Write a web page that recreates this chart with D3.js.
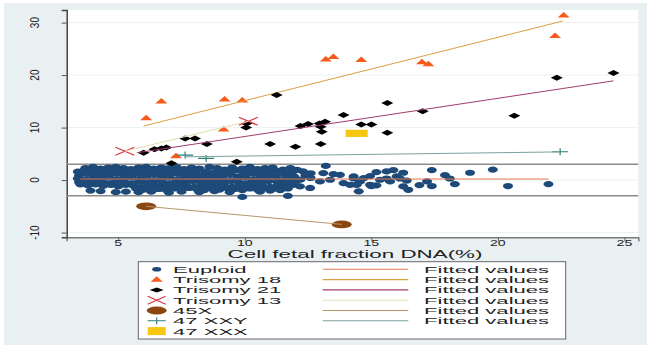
<!DOCTYPE html>
<html>
<head>
<meta charset="utf-8">
<script src="https://cdn.jsdelivr.net/npm/d3@7"></script>
<style>
  body { margin: 0; background: #fff; }
  text { font-family: "Liberation Sans", Arial, sans-serif; }
</style>
</head>
<body>
<svg id="chart" width="647" height="345"></svg>
<script>
// tick values
const xTicks = [5, 10, 15, 20, 25];
const yTicks = [-10, 0, 10, 20, 30];
const refLines = [3, -3];

// Euploid samples [fetal fraction %, z-score]
const euploid = [
  [3.7,2.3],[4.0,2.5],[4.3,2.2],[4.6,2.4],[4.9,2.5],[5.2,2.3],[5.5,2.1],[5.8,2.4],[6.1,2.5],[6.4,2.2],
  [6.7,2.4],[7.0,2.3],[7.3,2.5],[7.6,2.1],[7.9,2.4],[8.2,2.2],[8.6,2.5],[8.9,2.3],[9.2,2.0],[9.5,2.4],
  [9.9,2.2],[10.2,2.5],[10.5,2.1],[10.8,2.3],[11.1,2.4],[11.5,2.0],[11.8,2.3],[13.2,2.7],
  [3.4,1.6],[3.65,1.9],[3.95,1.5],[4.25,1.8],[4.55,1.6],[4.85,1.9],[5.15,1.7],[5.45,1.5],[5.75,1.8],[6.05,1.6],
  [6.35,1.9],[6.65,1.5],[6.95,1.7],[7.25,1.8],[7.55,1.5],[7.85,1.7],[8.15,1.9],[8.45,1.6],[8.75,1.4],[9.05,1.8],
  [9.35,1.6],[9.65,1.9],[9.95,1.5],[10.25,1.7],[10.55,1.9],[10.85,1.5],[11.2,1.8],[11.5,1.6],[11.85,1.4],[12.06,1.96],
  [12.3,1.65],[12.6,1.3],[13.1,1.33],[13.5,1.14],[13.76,1.0],
  [3.45,0.9],[3.75,1.2],[4.05,0.8],[4.35,1.1],[4.65,0.9],[4.95,1.2],[5.25,0.8],[5.55,1.0],[5.85,1.2],[6.15,0.9],
  [6.45,1.1],[6.75,0.8],[7.05,1.0],[7.35,1.2],[7.65,0.9],[7.95,1.1],[8.25,0.8],[8.55,1.0],[8.85,1.2],[9.15,0.9],
  [9.45,1.1],[9.75,0.7],[10.05,1.0],[10.35,1.2],[10.65,0.9],[10.95,1.1],[11.25,0.8],[11.6,1.0],[11.95,0.7],[12.4,0.9],
  [14.3,0.7],[14.7,0.38],
  [3.4,0.3],[3.7,0.1],[4.0,0.4],[4.3,0.2],[4.6,0.5],[4.9,0.1],[5.2,0.3],[5.5,0.5],[5.8,0.2],[6.1,0.4],
  [6.4,0.0],[6.7,0.3],[7.0,0.5],[7.3,0.1],[7.6,0.4],[7.9,0.2],[8.2,0.5],[8.5,0.1],[8.8,0.3],[9.1,0.4],
  [9.4,0.0],[9.7,0.3],[10.0,0.5],[10.3,0.1],[10.6,0.4],[10.9,0.2],[11.2,0.5],[11.5,0.0],[11.8,0.3],[12.2,0.1],
  [12.6,0.4],[13.37,0.06],[14.3,0.3],[14.55,-0.3],
  [3.45,-0.4],[3.75,-0.2],[4.05,-0.5],[4.35,-0.3],[4.65,-0.6],[4.95,-0.2],[5.25,-0.4],[5.55,-0.6],[5.85,-0.3],[6.15,-0.5],
  [6.45,-0.2],[6.75,-0.4],[7.05,-0.6],[7.35,-0.3],[7.65,-0.5],[7.95,-0.2],[8.25,-0.4],[8.55,-0.6],[8.85,-0.3],[9.15,-0.5],
  [9.45,-0.2],[9.75,-0.4],[10.05,-0.6],[10.35,-0.3],[10.65,-0.5],[10.95,-0.2],[11.3,-0.4],[11.65,-0.6],[12.0,-0.3],[12.97,-0.25],
  [13.9,-0.57],
  [3.5,-0.8],[3.8,-1.0],[4.1,-0.8],[4.4,-1.1],[4.7,-0.9],[5.0,-1.2],[5.3,-0.9],[5.6,-1.1],[5.9,-1.3],[6.2,-0.9],
  [6.5,-1.2],[6.8,-1.0],[7.1,-1.3],[7.4,-0.9],[7.7,-1.1],[8.0,-1.3],[8.3,-1.0],[8.6,-1.2],[8.9,-0.9],[9.2,-1.1],
  [9.5,-1.3],[9.8,-1.0],[10.1,-1.2],[10.4,-0.9],[10.7,-1.1],[11.0,-1.3],[11.3,-1.0],[11.6,-1.2],[11.9,-0.9],[12.18,-1.2],
  [14.16,-0.9],[14.42,-0.9],
  [5.7,-1.6],[6.0,-1.8],[6.3,-1.5],[6.6,-1.7],[6.9,-1.9],[7.2,-1.6],[7.5,-1.8],[7.8,-1.5],[8.1,-1.7],[8.4,-1.9],
  [8.7,-1.6],[9.0,-1.8],[9.3,-1.5],[9.6,-1.7],[9.9,-1.9],[10.2,-1.6],[10.5,-1.8],[10.8,-1.5],[11.1,-1.7],[11.4,-1.9],
  [11.7,-1.6],[12.58,-1.5],
  [3.9,-2.0],[4.3,-2.1],[4.9,-2.3],[5.3,-2.2],[5.8,-2.3],[6.3,-2.2],[7.0,-2.4],[7.5,-2.2],[8.2,-2.3],[8.8,-2.1],
  [9.4,-2.3],[9.9,-3.2],[10.6,-2.2],[11.0,-2.0],[11.7,-3.0],[14.5,-2.15],
  [15.2,1.52],[15.6,1.65],[15.87,1.9],[16.26,1.4],[16.0,0.7],[15.34,0.06],[15.74,-0.25],[14.95,-0.9],[15.2,-1.0],[16.26,-1.2],
  [16.46,-1.85],[17.2,-0.25],[16.13,0.3],[16.4,-0.1],[15.6,0.3],[14.95,0.76],[17.39,1.9],[17.91,0.95],[18.1,0.3],[18.9,1.4],
  [19.8,2.0],[20.4,-1.14],[22.0,-0.76],[18.3,-0.76],[17.39,-1.14],[16.9,-0.95],[15.0,-1.14]
];

const trisomy18 = [
  [6.1,11.8],[6.7,15.0],[9.2,15.4],[9.9,15.2],[9.16,9.65],[7.28,4.57],[13.2,23.0],[13.5,23.5],
  [14.6,22.9],[17.0,22.5],[17.25,22.1],[22.26,27.5],[22.6,31.4]
];

const trisomy21 = [
  [6.0,5.2],[6.43,5.85],[6.7,6.0],[6.9,6.2],[7.64,7.9],[8.03,7.9],[8.5,6.86],[10.07,10.8],[10.05,10.0],
  [11.26,16.2],[11.0,6.86],[12.0,6.35],[12.2,10.3],[12.5,10.7],[9.68,3.5],[7.1,3.2],[12.95,10.8],[13.04,9.2],
  [13.0,6.86],[13.0,10.15],[13.17,11.1],[13.9,12.4],[14.6,10.6],[15.0,10.6],[15.63,14.7],[15.63,9.0],
  [17.03,13.1],[20.65,12.25],[22.33,19.5],[24.57,20.4]
];

const trisomy13 = [[5.26,5.5],[10.14,11.2]];
const x45 = [[6.1,-5.0],[13.83,-8.44]];
const xxy47 = [[7.64,4.76],[8.47,4.13],[22.46,5.4]];
const xxx47 = [[14.42,8.9]];

// fitted values, end points of each lfit line
const fitEuploid = [[3.5,0.2],[22.0,0.2]];
const fit18 = [[6.0,10.3],[22.57,30.3]];
const fit21 = [[5.73,5.2],[24.57,18.9]];
const fit13 = [[5.26,5.5],[10.14,11.2]];
const fit45 = [[6.1,-5.0],[13.83,-8.44]];
const fitXXY = [[7.64,4.43],[22.46,5.37]];

const groupLabels = ['Euploid', 'Trisomy 18', 'Trisomy 21', 'Trisomy 13', '45X', '47 XXY', '47 XXX'];
const fitLabel = 'Fitted values';

const col = {
  euploid: '#1d4a78', t18: '#f85a1a', t21: '#000', t13: '#d8323c', x45: '#8a4710', xxy: '#2f7f78', xxx: '#f6c611',
  fEu: '#e07850', f18: '#dba040', f21: '#a23a70', f13: '#e2e2b8', f45: '#b8956a', fXXY: '#7aa0a0'
};

const svg = d3.select('#chart');

const plotLeft = 66.7, plotRight = 638.3, plotTop = 10, plotBottom = 237.3;

// outer background
svg.append('rect').attr('x', 4).attr('y', 3).attr('width', 643).attr('height', 342).attr('fill', '#e9f0f2');
svg.append('rect').attr('x', plotLeft).attr('y', plotTop)
  .attr('width', plotRight - plotLeft).attr('height', plotBottom - plotTop).attr('fill', '#fff');

const x = d3.scaleLinear().domain([2.96, 25.55]).range([plotLeft, plotRight]);
const y = d3.scaleLinear().domain([-10.9, 32.4]).range([plotBottom, plotTop]);

// faint grid
svg.append('g').selectAll('line').data(yTicks).join('line')
  .attr('x1', plotLeft).attr('x2', plotRight)
  .attr('y1', d => y(d)).attr('y2', d => y(d))
  .attr('stroke', '#edf1f2').attr('stroke-width', 1);

// axes
const xAxis = svg.append('g').attr('transform', 'translate(0,' + plotBottom + ')')
  .call(d3.axisBottom(x).tickValues(xTicks).tickSize(4).tickFormat(''));
xAxis.select('.domain').attr('stroke', '#7a7a7a').attr('stroke-width', 1.5);
xAxis.selectAll('.tick line').attr('stroke', '#666');

const yAxis = svg.append('g').attr('transform', 'translate(' + plotLeft + ',0)')
  .call(d3.axisLeft(y).tickValues(yTicks).tickSize(5).tickFormat(''));
yAxis.select('.domain').attr('stroke', '#444').attr('stroke-width', 1.5);
yAxis.selectAll('.tick line').attr('stroke', '#555');

// tick labels (stretched like the source image)
svg.append('g').selectAll('text').data(xTicks).join('text')
  .attr('transform', d => 'translate(' + x(d) + ',246.3) scale(1.65,1)')
  .attr('text-anchor', 'middle').attr('font-size', 8.6).attr('fill', '#222')
  .text(d => d);

svg.append('g').selectAll('text').data(yTicks).join('text')
  .attr('transform', d => 'translate(38.5,' + y(d) + ') rotate(-90) scale(1,1.35)')
  .attr('text-anchor', 'middle').attr('font-size', 10).attr('fill', '#222')
  .text(d => d);

svg.append('text')
  .attr('transform', 'translate(355,257.5) scale(2.24,1)')
  .attr('text-anchor', 'middle').attr('font-size', 10).attr('fill', '#222')
  .text('Cell fetal fraction DNA(%)');

// reference lines at +-3
svg.append('g').selectAll('line').data(refLines).join('line')
  .attr('x1', plotLeft).attr('x2', plotRight)
  .attr('y1', d => y(d)).attr('y2', d => y(d))
  .attr('stroke', '#8c8c8c').attr('stroke-width', 1.5);

const plot = svg.append('g');
const line = d3.line().x(d => x(d[0])).y(d => y(d[1]));

// marker shapes
const tri = (w, h) => 'M0,' + (-h * 0.6) + 'L' + (w / 2) + ',' + (h * 0.4) + 'L' + (-w / 2) + ',' + (h * 0.4) + 'Z';
const dia = (w, h) => 'M0,' + (-h / 2) + 'L' + (w / 2) + ',0L0,' + (h / 2) + 'L' + (-w / 2) + ',0Z';
const cross = (w, h) => 'M' + (-w / 2) + ',' + (-h / 2) + 'L' + (w / 2) + ',' + (h / 2) + 'M' + (-w / 2) + ',' + (h / 2) + 'L' + (w / 2) + ',' + (-h / 2);
const plus = (w, h) => 'M' + (-w / 2) + ',0L' + (w / 2) + ',0M0,' + (-h / 2) + 'L0,' + (h / 2);

// Euploid
plot.append('g').selectAll('ellipse').data(euploid).join('ellipse')
  .attr('cx', d => x(d[0])).attr('cy', d => y(d[1]))
  .attr('rx', 5).attr('ry', 3.1).attr('fill', col.euploid);
plot.append('path').attr('d', line(fitEuploid)).attr('stroke', col.fEu).attr('stroke-width', 1).attr('fill', 'none');

// Trisomy 18
plot.append('g').selectAll('path').data(trisomy18).join('path')
  .attr('transform', d => 'translate(' + x(d[0]) + ',' + y(d[1]) + ')')
  .attr('d', tri(12, 5.5)).attr('fill', col.t18);
plot.append('path').attr('d', line(fit18)).attr('stroke', col.f18).attr('stroke-width', 1).attr('fill', 'none');

// Trisomy 21
plot.append('g').selectAll('path').data(trisomy21).join('path')
  .attr('transform', d => 'translate(' + x(d[0]) + ',' + y(d[1]) + ')')
  .attr('d', dia(12, 6)).attr('fill', col.t21);
plot.append('path').attr('d', line(fit21)).attr('stroke', col.f21).attr('stroke-width', 1).attr('fill', 'none');

// Trisomy 13
plot.append('g').selectAll('path').data(trisomy13).join('path')
  .attr('transform', d => 'translate(' + x(d[0]) + ',' + y(d[1]) + ')')
  .attr('d', cross(19, 8)).attr('stroke', col.t13).attr('stroke-width', 1.2).attr('fill', 'none');
plot.append('path').attr('d', line(fit13)).attr('stroke', col.f13).attr('stroke-width', 1.2).attr('fill', 'none');

// 45X
plot.append('g').selectAll('ellipse').data(x45).join('ellipse')
  .attr('cx', d => x(d[0])).attr('cy', d => y(d[1]))
  .attr('rx', 10).attr('ry', 3.9).attr('fill', col.x45);
plot.append('path').attr('d', line(fit45)).attr('stroke', col.f45).attr('stroke-width', 1).attr('fill', 'none');

// 47 XXY
plot.append('g').selectAll('path').data(xxy47).join('path')
  .attr('transform', d => 'translate(' + x(d[0]) + ',' + y(d[1]) + ')')
  .attr('d', plus(16, 7)).attr('stroke', col.xxy).attr('stroke-width', 1.2).attr('fill', 'none');
plot.append('path').attr('d', line(fitXXY)).attr('stroke', col.fXXY).attr('stroke-width', 1).attr('fill', 'none');

// 47 XXX
plot.append('g').selectAll('rect').data(xxx47).join('rect')
  .attr('x', d => x(d[0]) - 11).attr('y', d => y(d[1]) - 3.6)
  .attr('width', 22).attr('height', 7.2).attr('fill', col.xxx);

// Legend
const lg = svg.append('g');
lg.append('rect').attr('x', 138.3).attr('y', 261.7).attr('width', 427.4).attr('height', 77.3)
  .attr('fill', '#fff').attr('stroke', '#666').attr('stroke-width', 1);

const rowY = i => 269.3 + i * 10.3;
const symX = 156.7;
const symbols = [
  g => g.append('ellipse').attr('cx', symX).attr('rx', 4.5).attr('ry', 2.3).attr('fill', col.euploid),
  g => g.append('path').attr('transform', 'translate(' + symX + ',0)').attr('d', tri(12, 5.5)).attr('fill', col.t18),
  g => g.append('path').attr('transform', 'translate(' + symX + ',0)').attr('d', dia(14, 5)).attr('fill', col.t21),
  g => g.append('path').attr('transform', 'translate(' + symX + ',0)').attr('d', cross(18, 8)).attr('stroke', col.t13).attr('stroke-width', 1.1).attr('fill', 'none'),
  g => g.append('ellipse').attr('cx', symX).attr('rx', 10).attr('ry', 4).attr('fill', col.x45),
  g => g.append('path').attr('transform', 'translate(' + symX + ',0)').attr('d', plus(18, 7)).attr('stroke', col.xxy).attr('stroke-width', 1.1).attr('fill', 'none'),
  g => g.append('rect').attr('x', symX - 9).attr('y', -4).attr('width', 18).attr('height', 8).attr('fill', col.xxx)
];
const fitColors = [col.fEu, col.f18, col.f21, col.f13, col.f45, col.fXXY];

groupLabels.forEach((lab, i) => {
  const row = lg.append('g').attr('transform', 'translate(0,' + rowY(i) + ')');
  symbols[i](row);
  row.append('text').attr('transform', 'translate(173,3.4) scale(2.3,1)')
    .attr('font-size', 9.6).attr('fill', '#222').text(lab);
  if (i < fitColors.length) {
    row.append('line').attr('x1', 322.7).attr('x2', 408.3)
      .attr('stroke', fitColors[i]).attr('stroke-width', 1.1);
    row.append('text').attr('transform', 'translate(424,3.4) scale(2.3,1)')
      .attr('font-size', 9.6).attr('fill', '#222').text(fitLabel);
  }
});
</script>
</body>
</html>
